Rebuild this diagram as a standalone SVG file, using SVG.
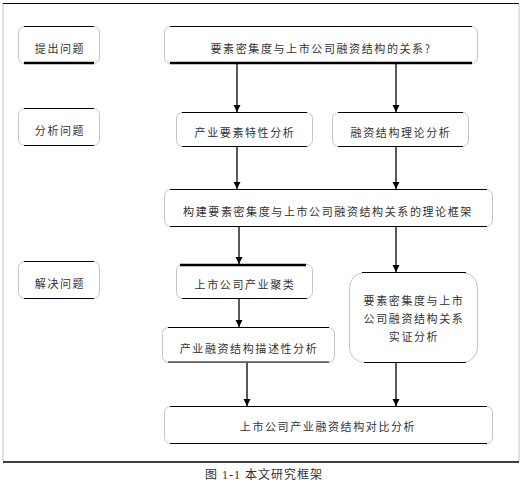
<svg xmlns="http://www.w3.org/2000/svg" width="529" height="492" viewBox="0 0 529 492">
<defs>
<marker id="ah" markerWidth="8" markerHeight="8" refX="7" refY="4" orient="auto" markerUnits="userSpaceOnUse">
<path d="M0,0.5 L7,4 L0,7.5 Z" fill="#000"/>
</marker>
<style>
.bx{fill:#fff;stroke:#c4c4c4;stroke-width:1}
.ln{stroke:#000;stroke-width:1.2}
.lt{stroke:#000;stroke-width:2.4}
.t{font-family:"Noto Sans CJK SC","Noto Sans",sans-serif;font-size:11px;letter-spacing:1.6px;fill:#333;text-anchor:middle}
.c{stroke:#000;stroke-width:1.3;fill:none;marker-end:url(#ah)}
</style>
</defs>
<rect x="0" y="0" width="529" height="492" fill="#fff"/>
<g id="frame">
<line x1="3" y1="3.5" x2="3" y2="462" stroke="#c4c4c4" stroke-width="1"/>
<line x1="519" y1="3.5" x2="519" y2="462" stroke="#c4c4c4" stroke-width="1"/>
<line x1="3" y1="3.5" x2="519" y2="3.5" stroke="#000" stroke-width="1"/>
<line x1="3" y1="462" x2="519" y2="462" stroke="#000" stroke-width="1.3"/>
</g>
<g id="connectors">
<line class="c" x1="237" y1="64" x2="237" y2="112"/>
<line class="c" x1="396" y1="64" x2="396" y2="112"/>
<line class="c" x1="237" y1="146" x2="237" y2="189"/>
<line class="c" x1="396" y1="146" x2="396" y2="189"/>
<line class="c" x1="239" y1="227" x2="239" y2="264"/>
<line class="c" x1="396" y1="227" x2="396" y2="272"/>
<line class="c" x1="239" y1="298" x2="239" y2="327"/>
<line class="c" x1="247" y1="362" x2="247" y2="406"/>
<line class="c" x1="396" y1="363" x2="396" y2="406"/>
</g>
<g id="q1">
<rect class="bx" x="18.5" y="26.5" width="81" height="37" rx="6"/>
<line class="ln" x1="24" y1="26.5" x2="94" y2="26.5"/>
<line class="lt" x1="24" y1="63" x2="94" y2="63"/>
<text class="t" x="60" y="53">提出问题</text>
</g>
<g id="q2">
<rect class="bx" x="18.5" y="108.5" width="81" height="37" rx="6"/>
<line class="ln" x1="24" y1="108.5" x2="94" y2="108.5"/>
<line class="ln" x1="24" y1="145.5" x2="94" y2="145.5"/>
<text class="t" x="60" y="135">分析问题</text>
</g>
<g id="q3">
<rect class="bx" x="18.5" y="261.5" width="81" height="37" rx="6"/>
<line class="ln" x1="24" y1="261.5" x2="94" y2="261.5"/>
<line class="ln" x1="24" y1="298.5" x2="94" y2="298.5"/>
<text class="t" x="60" y="288">解决问题</text>
</g>
<g id="question">
<rect class="bx" x="164.5" y="26.5" width="313" height="37" rx="6"/>
<line class="ln" x1="170" y1="26.5" x2="472" y2="26.5"/>
<line class="lt" x1="170" y1="63" x2="472" y2="63"/>
<text class="t" x="321" y="53">要素密集度与上市公司融资结构的关系?</text>
</g>
<g id="industry">
<rect class="bx" x="176.5" y="112.5" width="136" height="34" rx="6"/>
<line class="ln" x1="182" y1="112.5" x2="307" y2="112.5"/>
<line class="ln" x1="182" y1="146.5" x2="307" y2="146.5"/>
<text class="t" x="245" y="137">产业要素特性分析</text>
</g>
<g id="theory">
<rect class="bx" x="332.5" y="112.5" width="136" height="34" rx="6"/>
<line class="ln" x1="338" y1="112.5" x2="463" y2="112.5"/>
<line class="ln" x1="338" y1="146.5" x2="463" y2="146.5"/>
<text class="t" x="401" y="137">融资结构理论分析</text>
</g>
<g id="framework">
<rect class="bx" x="164.5" y="189.5" width="328" height="37" rx="6"/>
<line class="ln" x1="170" y1="189.5" x2="487" y2="189.5"/>
<line class="ln" x1="170" y1="226.5" x2="487" y2="226.5"/>
<text class="t" x="328" y="216">构建要素密集度与上市公司融资结构关系的理论框架</text>
</g>
<g id="cluster">
<rect class="bx" x="176.5" y="264.5" width="136" height="34" rx="6"/>
<line class="lt" x1="180" y1="265" x2="306" y2="265"/>
<line class="ln" x1="182" y1="298.5" x2="307" y2="298.5"/>
<text class="t" x="245" y="289">上市公司产业聚类</text>
</g>
<g id="empirical">
<rect class="bx" x="349.5" y="272.5" width="128" height="90" rx="15"/>
<line class="ln" x1="362" y1="272.5" x2="466" y2="272.5"/>
<line class="ln" x1="364" y1="362.5" x2="466" y2="362.5"/>
<text class="t" x="414" y="305">要素密集度与上市</text>
<text class="t" x="414" y="323">公司融资结构关系</text>
<text class="t" x="414" y="341">实证分析</text>
</g>
<g id="descriptive">
<rect class="bx" x="162.5" y="327.5" width="172" height="35" rx="6"/>
<line class="ln" x1="168" y1="327.5" x2="329" y2="327.5"/>
<line class="ln" x1="168" y1="362" x2="329" y2="362"/>
<text class="t" x="249" y="353">产业融资结构描述性分析</text>
</g>
<g id="compare">
<rect class="bx" x="164.5" y="406.5" width="328" height="37" rx="6"/>
<line class="ln" x1="170" y1="406.5" x2="487" y2="406.5"/>
<line class="ln" x1="170" y1="443.5" x2="487" y2="443.5"/>
<text class="t" x="328" y="431">上市公司产业融资结构对比分析</text>
</g>
<g id="caption">
<text x="264" y="479" font-family="Liberation Serif,'Noto Sans CJK SC',serif" font-size="12" fill="#333" text-anchor="middle" letter-spacing="1">图 1-1  本文研究框架</text>
</g>
</svg>
